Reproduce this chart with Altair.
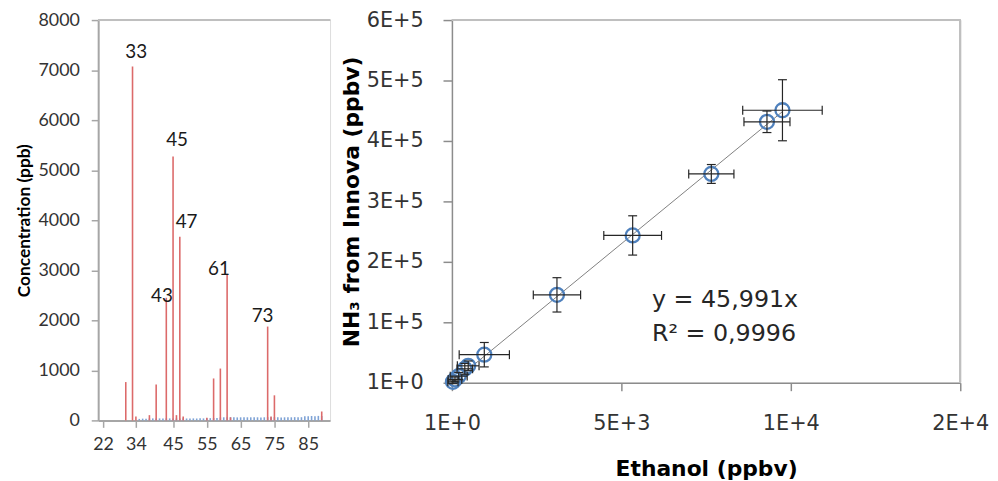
import altair as alt
import pandas as pd

# ---------------- Left panel: PTR-MS spectrum ----------------
red_mass = [31, 33, 34, 38, 40, 43, 45, 46, 47, 48, 55, 57, 59, 61, 62, 73, 74, 75, 89]
red_conc = [766, 7070, 80, 105, 719, 2450, 5274, 105, 3670, 80, 53, 838, 1036, 2930, 60, 1875, 80, 501, 178]

blue_mass = list(range(35, 90))
blue_conc = [30, 35, 35, 38, 40, 38, 40, 40, 42, 40,
             38, 40, 40, 42, 38, 40, 40, 38, 42, 40,
             45, 45, 48, 50,
             60, 62, 62, 65, 62, 60, 62, 65, 62, 62,
             65, 62, 60, 62, 65, 62, 65, 62, 60, 62,
             65, 62, 65, 62, 64,
             85, 85, 88, 85, 90, 88]

peak_labels = ["33", "43", "45", "47", "61", "73"]
peak_label_mass = [34.1, 41.7, 46.2, 49.0, 58.6, 71.5]
peak_label_conc = [7353, 2475, 5604, 3960, 3030, 2079]

left_tick_pos = [24.3, 34, 45, 55, 65, 75, 85]
left_tick_labels = ["22", "34", "45", "55", "65", "75", "85"]
left_y_ticks = [0, 1000, 2000, 3000, 4000, 5000, 6000, 7000, 8000]

# ---------------- Right panel: calibration ----------------
ethanol = [30, 90, 200, 380, 480, 955, 3099, 5333, 7654, 9296, 9753]
nh3 = [1500, 5500, 11000, 23000, 28000, 46400, 145400, 243700, 345400, 431700, 450800]
ethanol_err = [150, 200, 250, 230, 320, 741, 698, 852, 667, 679, 1173]
nh3_err = [3000, 4000, 6000, 9000, 8000, 20200, 28400, 32500, 15600, 17800, 50500]

slope = 45.991
trend_x = [0, 9753]

right_x_ticks = [0, 5000, 10000, 15000]
right_x_labels = ["1E+0", "5E+3", "1E+4", "2E+4"]
right_y_ticks = [0, 100000, 200000, 300000, 400000, 500000, 600000]
right_y_labels = ["1E+0", "1E+5", "2E+5", "3E+5", "4E+5", "5E+5", "6E+5"]

ann_text = ["y = 45,991x", "R² = 0,9996"]
ann_x = [5900, 5900]
ann_y = [137200, 79800]

FONT_L = "Lato"
FONT_R = "DejaVu Sans"
LABEL_COLOR = "#333333"


def label_expr(positions, labels):
    expr = "''"
    for p, l in zip(positions, labels):
        expr = f"abs(datum.value - {p}) < 0.01 ? '{l}' : ({expr})"
    return expr


# ----- left chart -----
LW, LH = 234, 404
xl_scale = alt.Scale(domain=[24.3, 90], nice=False, zero=False)
yl_scale = alt.Scale(domain=[0, 8000], nice=False)

x_left_axis = alt.Axis(values=left_tick_pos, labelExpr=label_expr(left_tick_pos, left_tick_labels),
                       title=None, grid=False, tickSize=7, labelPadding=8,
                       labelFont=FONT_L, labelFontSize=18, labelColor=LABEL_COLOR,
                       domainColor="#a6a6a6", domainWidth=2, tickColor="#a6a6a6", tickWidth=1.5,
                       labelFlush=False, labelOverlap=False, labelSeparation=0)
y_left_axis = alt.Axis(values=left_y_ticks, format="d", title="Concentration (ppb)",
                       grid=False, tickSize=7, labelPadding=12,
                       labelFont=FONT_L, labelFontSize=18, labelColor=LABEL_COLOR,
                       titleFont=FONT_L, titleFontSize=17.5, titleFontWeight="bold", titleColor="#000000",
                       titlePadding=5,
                       domainColor="#a6a6a6", domainWidth=2, tickColor="#a6a6a6", tickWidth=1.5,
                       labelFlush=False, labelOverlap=False)

red_df = pd.DataFrame({"mass": red_mass, "conc": red_conc})
blue_df = pd.DataFrame({"mass": blue_mass, "conc": blue_conc})
lab_df = pd.DataFrame({"mass": peak_label_mass, "conc": peak_label_conc, "txt": peak_labels})

xl = alt.X("mass:Q", scale=xl_scale, axis=x_left_axis)
yl = alt.Y("conc:Q", scale=yl_scale, axis=y_left_axis)

blue_bars = alt.Chart(blue_df).mark_bar(size=1.6, color="#7fa3d6").encode(x=xl, y=yl)
red_bars = alt.Chart(red_df).mark_bar(size=1.6, color="#dc6a6a").encode(x=xl, y=yl)
peak_text = alt.Chart(lab_df).mark_text(font=FONT_L, fontSize=19, color="#1a1a1a",
                                         align="center", baseline="middle").encode(
    x=xl, y=yl, text="txt:N",
)
top_rule = alt.Chart(red_df).mark_rule(color="#bfbfbf", strokeWidth=1.5).encode(
    y=alt.datum(8000),
)
left = alt.layer(blue_bars, red_bars, top_rule, peak_text).properties(width=LW, height=LH)

# ----- right chart -----
RW, RH = 513, 366
xr_scale = alt.Scale(domain=[0, 15000], nice=False)
yr_scale = alt.Scale(domain=[0, 600000], nice=False)

x_right_axis = alt.Axis(values=right_x_ticks, labelExpr=label_expr(right_x_ticks, right_x_labels),
                        title="Ethanol (ppbv)", grid=False, tickSize=8, labelPadding=22,
                        labelFont=FONT_R, labelFontSize=21, labelColor=LABEL_COLOR,
                        titleFont=FONT_R, titleFontSize=22, titleFontWeight="bold", titleColor="#000000",
                        titlePadding=26,
                        domainColor="#8c8c8c", domainWidth=1.5, tickColor="#8c8c8c", tickWidth=1.5,
                        labelFlush=False, labelOverlap=False)
y_right_axis = alt.Axis(values=right_y_ticks, labelExpr=label_expr(right_y_ticks, right_y_labels),
                        title="NH₃ from Innova (ppbv)", grid=False, tickSize=9, labelPadding=20,
                        labelFont=FONT_R, labelFontSize=21, labelColor=LABEL_COLOR,
                        titleFont=FONT_R, titleFontSize=22, titleFontWeight="bold", titleColor="#000000",
                        titlePadding=3,
                        domainColor="#8c8c8c", domainWidth=1.5, tickColor="#8c8c8c", tickWidth=1.5,
                        labelFlush=False, labelOverlap=False)

pts = pd.DataFrame({"eth": ethanol, "nh3": nh3, "ex": ethanol_err, "ey": nh3_err})
pts["x_lo"] = pts["eth"] - pts["ex"]
pts["x_hi"] = pts["eth"] + pts["ex"]
pts["y_lo"] = pts["nh3"] - pts["ey"]
pts["y_hi"] = pts["nh3"] + pts["ey"]

trend_df = pd.DataFrame({"eth": trend_x, "nh3": [slope * v for v in trend_x]})
ann_df = pd.DataFrame({"eth": ann_x, "nh3": ann_y, "txt": ann_text})

xr = alt.X("eth:Q", scale=xr_scale, axis=x_right_axis)
yr = alt.Y("nh3:Q", scale=yr_scale, axis=y_right_axis)

trend = alt.Chart(trend_df).mark_line(color="#808080", strokeWidth=1).encode(x=xr, y=yr)
base = alt.Chart(pts)
circles = base.mark_point(shape="circle", filled=False, size=200, strokeWidth=2.3,
                          color="#4f81bd", opacity=1).encode(x=xr, y=yr)
h_err = base.mark_rule(color="#262626", strokeWidth=1.2).encode(
    x=alt.X("x_lo:Q", scale=xr_scale), x2="x_hi:Q", y=alt.Y("nh3:Q", scale=yr_scale))
v_err = base.mark_rule(color="#262626", strokeWidth=1.2).encode(
    x=alt.X("eth:Q", scale=xr_scale), y=alt.Y("y_lo:Q", scale=yr_scale), y2="y_hi:Q")
cap_l = base.mark_tick(orient="vertical", size=9, thickness=1.2, color="#262626", opacity=1).encode(
    x=alt.X("x_lo:Q", scale=xr_scale), y=alt.Y("nh3:Q", scale=yr_scale))
cap_r = base.mark_tick(orient="vertical", size=9, thickness=1.2, color="#262626", opacity=1).encode(
    x=alt.X("x_hi:Q", scale=xr_scale), y=alt.Y("nh3:Q", scale=yr_scale))
cap_b = base.mark_tick(orient="horizontal", size=9, thickness=1.2, color="#262626", opacity=1).encode(
    x=alt.X("eth:Q", scale=xr_scale), y=alt.Y("y_lo:Q", scale=yr_scale))
cap_t = base.mark_tick(orient="horizontal", size=9, thickness=1.2, color="#262626", opacity=1).encode(
    x=alt.X("eth:Q", scale=xr_scale), y=alt.Y("y_hi:Q", scale=yr_scale))
border_top = alt.Chart(pts).mark_rule(color="#bfbfbf", strokeWidth=1.5).encode(y=alt.datum(600000))
border_right = alt.Chart(pts).mark_rule(color="#bfbfbf", strokeWidth=1.5).encode(x=alt.datum(15000))
ann = alt.Chart(ann_df).mark_text(font=FONT_R, fontSize=24, color="#262626",
                                  align="left", baseline="middle").encode(
    x=alt.X("eth:Q", scale=xr_scale), y=alt.Y("nh3:Q", scale=yr_scale), text="txt:N")

right = alt.layer(trend, border_top, border_right, circles, h_err, v_err,
                  cap_l, cap_r, cap_b, cap_t, ann).properties(width=RW, height=RH)

chart = alt.hconcat(left, right, spacing=7).properties(
    padding={"left": 6, "top": -2, "right": 0, "bottom": 0}
).configure_view(stroke=None).configure_axis(labelOverlap=False).configure(background="white")

chart.save("out.html", embed_options={"renderer": "svg", "actions": False})
